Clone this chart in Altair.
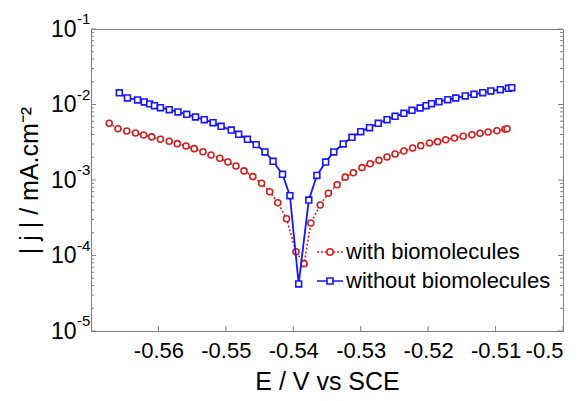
import altair as alt
import pandas as pd

red_E = [-0.5673, -0.5660, -0.5647, -0.5634, -0.5622, -0.5610, -0.5597, -0.5584, -0.5572, -0.5559,
         -0.5547, -0.5534, -0.5522, -0.5509, -0.5497, -0.5485, -0.5473, -0.5460, -0.5447, -0.5435,
         -0.5423, -0.5410, -0.5396, -0.5384, -0.5374, -0.5360, -0.5348, -0.5335, -0.5323, -0.5311,
         -0.5298, -0.5286, -0.5273, -0.5261, -0.5249, -0.5236, -0.5223, -0.5211, -0.5198, -0.5186,
         -0.5174, -0.5161, -0.5148, -0.5135, -0.5123, -0.5111, -0.5098, -0.5086, -0.5083]
red_j = [5.64e-3, 4.78e-3, 4.46e-3, 4.20e-3, 3.94e-3, 3.72e-3, 3.46e-3, 3.26e-3, 3.03e-3, 2.82e-3,
         2.60e-3, 2.37e-3, 2.14e-3, 1.94e-3, 1.73e-3, 1.53e-3, 1.32e-3, 1.11e-3, 9.04e-4, 7.0e-4,
         5.0e-4, 3.07e-4, 1.12e-4, 7.8e-5, 2.69e-4, 4.67e-4, 6.67e-4, 8.67e-4, 1.09e-3, 1.25e-3,
         1.46e-3, 1.64e-3, 1.82e-3, 2.02e-3, 2.21e-3, 2.42e-3, 2.65e-3, 2.85e-3, 3.09e-3, 3.22e-3,
         3.42e-3, 3.60e-3, 3.79e-3, 3.98e-3, 4.16e-3, 4.32e-3, 4.50e-3, 4.70e-3, 4.78e-3]

blue_E = [-0.5658, -0.5646, -0.5631, -0.5621, -0.5613, -0.5606, -0.5597, -0.5584, -0.5571, -0.5558,
          -0.5545, -0.5532, -0.5519, -0.5507, -0.5492, -0.5481, -0.5468, -0.5455, -0.5442, -0.5430,
          -0.5416, -0.5405, -0.5392, -0.5377, -0.5365, -0.5352, -0.5340, -0.5326, -0.5313, -0.5300,
          -0.5287, -0.5274, -0.5261, -0.5249, -0.5236, -0.5224, -0.5212, -0.5203, -0.5195, -0.5184,
          -0.5171, -0.5159, -0.5145, -0.5132, -0.5119, -0.5107, -0.5093, -0.5081, -0.5076]
blue_j = [1.43e-2, 1.22e-2, 1.15e-2, 1.08e-2, 1.02e-2, 9.64e-3, 9.07e-3, 8.53e-3, 7.96e-3, 7.41e-3,
          6.83e-3, 6.29e-3, 5.74e-3, 5.14e-3, 4.59e-3, 4.03e-3, 3.46e-3, 2.94e-3, 2.35e-3, 1.77e-3,
          1.19e-3, 6.2e-4, 4.2e-5, 5.43e-4, 1.15e-3, 1.73e-3, 2.35e-3, 3.0e-3, 3.68e-3, 4.36e-3,
          4.93e-3, 5.64e-3, 6.29e-3, 6.98e-3, 7.64e-3, 8.38e-3, 8.99e-3, 9.64e-3, 1.025e-2, 1.089e-2,
          1.158e-2, 1.219e-2, 1.297e-2, 1.365e-2, 1.432e-2, 1.51e-2, 1.571e-2, 1.64e-2, 1.67e-2]

series_names = ["with biomolecules", "without biomolecules"]
x_ticks = [-0.56, -0.55, -0.54, -0.53, -0.52, -0.51, -0.50]
y_decades = [1e-5, 1e-4, 1e-3, 1e-2, 1e-1]
y_exponents = ["-5", "-4", "-3", "-2", "-1"]
y_minor = [m * d for d in [1e-5, 1e-4, 1e-3, 1e-2] for m in range(2, 10)]

RED = "#d01f1f"
BLUE = "#1616ff"
GRAY = "#808080"
FONT = "Liberation Sans"

red_df = pd.DataFrame({"E": red_E, "j": red_j})
blue_df = pd.DataFrame({"E": blue_E, "j": blue_j})
legend_df = pd.DataFrame({"E": [red_E[0], blue_E[0]], "j": [red_j[0], blue_j[0]], "series": series_names})
dec_df = pd.DataFrame({"j": y_decades, "exp": y_exponents})
minor_df = pd.DataFrame({"j": y_minor})
xt_df = pd.DataFrame({"E": x_ticks})

xscale = alt.Scale(domain=[-0.57, -0.50], nice=False, zero=False)
yscale = alt.Scale(type="log", domain=[1e-5, 1e-1], nice=False)

x_axis = alt.Axis(values=x_ticks, orient="bottom", ticks=False, domain=False, grid=False,
                  labelPadding=9, labelFontSize=22, labelFont=FONT, labelColor="black",
                  labelExpr="replace(format(datum.value, '.2~f'), '\u2212', '-')",
                  title="E / V vs SCE", titleFontSize=25, titleFont=FONT, titleFontWeight="normal",
                  titleColor="black", titlePadding=8)

y_axis = alt.Axis(values=y_decades, orient="left", ticks=False, domain=False, grid=False,
                  labelPadding=15, labelFontSize=23, labelFont=FONT, labelColor="black",
                  labelExpr="'10'",
                  title="| j | / mA.cm\u207b\u00b2", titleFontSize=25, titleFont=FONT,
                  titleFontWeight="normal", titleColor="black", titlePadding=8)

def xenc():
    return alt.X("E:Q", scale=xscale, axis=x_axis)

def yenc():
    return alt.Y("j:Q", scale=yscale, axis=y_axis)

# tick marks drawn inward
tick_left_major = alt.Chart(dec_df).mark_rule(color=GRAY, strokeWidth=1).encode(
    y=yenc(), x=alt.value(0), x2=alt.value(5))
tick_left_minor = alt.Chart(minor_df).mark_rule(color=GRAY, strokeWidth=1).encode(
    y=yenc(), x=alt.value(0), x2=alt.value(3))
tick_right_major = alt.Chart(dec_df).mark_rule(color=GRAY, strokeWidth=1).encode(
    y=yenc(), x=alt.value(472), x2=alt.value(467))
tick_right_minor = alt.Chart(minor_df).mark_rule(color=GRAY, strokeWidth=1).encode(
    y=yenc(), x=alt.value(472), x2=alt.value(469))
tick_bottom = alt.Chart(xt_df).mark_rule(color=GRAY, strokeWidth=1).encode(
    x=xenc(), y=alt.value(302), y2=alt.value(297))

exp_text = alt.Chart(dec_df).mark_text(align="left", baseline="middle", dy=-10, fontSize=15,
                                        font=FONT, color="black").encode(
    y=yenc(), x=alt.value(-14), text="exp:N")

red_line = alt.Chart(red_df).mark_line(color=RED, strokeWidth=1.6, strokeDash=[2, 2]).encode(
    x=xenc(), y=yenc())
red_pts = alt.Chart(red_df).mark_point(shape="circle", filled=True, fill="white", stroke=RED,
                                       strokeWidth=1.6, size=36, opacity=1).encode(
    x=xenc(), y=yenc())
blue_line = alt.Chart(blue_df).mark_line(color=BLUE, strokeWidth=1.8).encode(
    x=xenc(), y=yenc())
blue_pts = alt.Chart(blue_df).mark_point(shape="square", filled=True, fill="white", stroke=BLUE,
                                         strokeWidth=1.6, size=34, opacity=1).encode(
    x=xenc(), y=yenc())

red_sym = ("M-1,0H-0.84M-0.7,0H-0.54M-0.42,0H-0.27M0.27,0H0.42M0.54,0H0.7M0.84,0H1"
           "M0.25,0A0.25,0.25,0,1,1,-0.25,0A0.25,0.25,0,1,1,0.25,0Z")
blue_sym = "M-1,0H-0.23M0.23,0H1M-0.23,-0.23H0.23V0.23H-0.23Z"

legend = alt.Legend(title=None, orient="none", legendX=225, legendY=209, padding=0, offset=0,
                    symbolSize=676, symbolStrokeWidth=1.6, symbolOpacity=1, labelFontSize=22,
                    labelFont=FONT, labelColor="black", labelOffset=2, rowPadding=4, labelLimit=0)

legend_layer = alt.Chart(legend_df).mark_point(filled=False, opacity=0).encode(
    x=xenc(), y=yenc(),
    color=alt.Color("series:N", scale=alt.Scale(domain=series_names, range=[RED, BLUE]), legend=legend),
    shape=alt.Shape("series:N", scale=alt.Scale(domain=series_names, range=[red_sym, blue_sym]), legend=legend),
)

chart = alt.layer(tick_left_major, tick_bottom, tick_left_minor, tick_right_major, tick_right_minor,
                  exp_text, red_line, red_pts, blue_line, blue_pts, legend_layer).properties(
    width=472, height=302,
    padding={"left": 83, "top": 21, "right": 8, "bottom": 62},
    autosize=alt.AutoSizeParams(type="none"),
).configure_view(stroke=GRAY, strokeWidth=1)

chart.save("out.html", embed_options={"renderer": "svg", "actions": False})
